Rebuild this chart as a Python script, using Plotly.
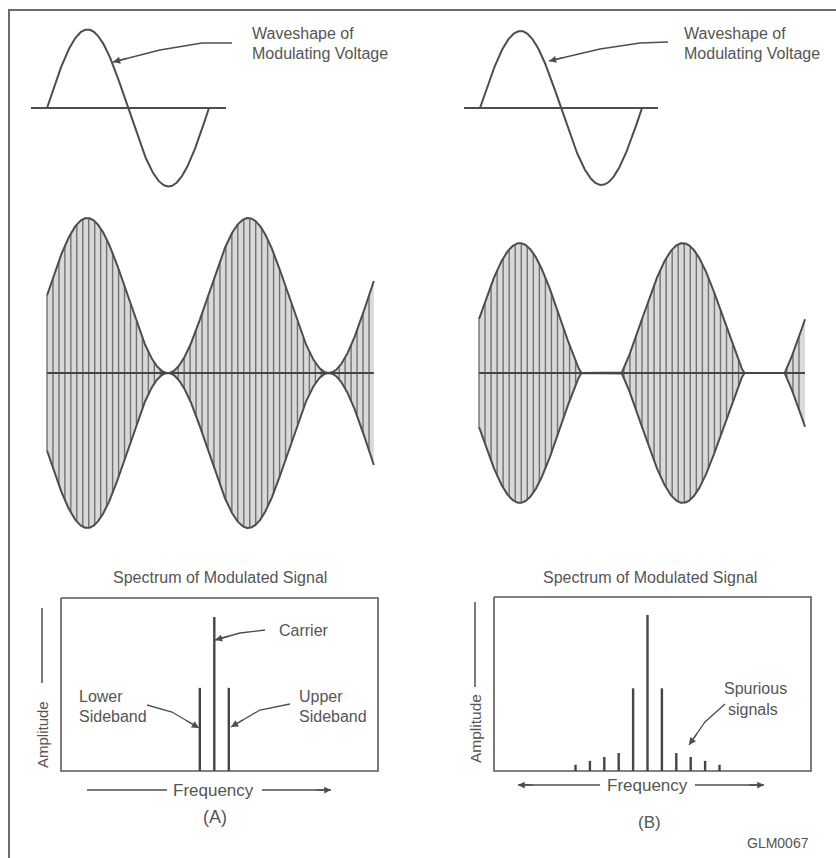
import numpy as np
import plotly.graph_objects as go

# ---------------- data ----------------
mod_cycles_shown = 1.0            # cycles of modulating voltage drawn at top
env_cycles_A = 2.03               # cycles of modulated carrier, panel A
env_cycles_B = 2.0                # cycles of modulated carrier, panel B
mod_index_A = 1.0                 # 100 % modulation
mod_index_B = 1.414               # overmodulation
carrier_per_mod = 27              # carrier cycles per modulating cycle

spec_offsets_A = [-1, 0, 1]
spec_amps_A = [0.54, 1.0, 0.54]
spec_offsets_B = [-5, -4, -3, -2, -1, 0, 1, 2, 3, 4, 5]
spec_amps_B = [0.04, 0.065, 0.09, 0.115, 0.53, 1.0, 0.53, 0.115, 0.09, 0.065, 0.04]

# ---------------- geometry (canvas in px) ----------------
INK = "#4d4d4d"
TXT = "#555555"
FONT = "Liberation Sans, Arial, sans-serif"

top_geo = {"A": dict(x0=47, base=108, per=162, amp=78.5, ax0=31, ax1=226),
           "B": dict(x0=480, base=108, per=162, amp=77, ax0=464, ax1=658)}
env_geo = {"A": dict(x0=47, base=373, per=161, unit=77.5, m=mod_index_A, cyc=env_cycles_A),
           "B": dict(x0=479, base=373, per=163, unit=53.8, m=mod_index_B, cyc=env_cycles_B)}
spec_geo = {"A": dict(cx=214.3, sp=14.5, base=771, unit=154, bx0=61, bx1=378, by0=598,
                      offs=spec_offsets_A, amps=spec_amps_A),
            "B": dict(cx=647.5, sp=14.4, base=771, unit=156, bx0=494, bx1=811, by0=597,
                      offs=spec_offsets_B, amps=spec_amps_B)}

fig = go.Figure()


def line(xs, ys, color=INK, width=2):
    fig.add_trace(go.Scatter(x=xs, y=ys, mode="lines", line=dict(color=color, width=width),
                             hoverinfo="skip", showlegend=False))


# outer frame
line([836, 9, 9], [10, 10, 858], color="#6a6a6a", width=2)

for key in ["A", "B"]:
    # ---- modulating voltage ----
    g = top_geo[key]
    t = np.linspace(0, mod_cycles_shown, 300)
    line([g["ax0"], g["ax1"]], [g["base"], g["base"]], width=2)
    line(g["x0"] + g["per"] * t, g["base"] - g["amp"] * np.sin(2 * np.pi * t), width=2)

    # ---- modulated carrier ----
    e = env_geo[key]
    t = np.linspace(0, e["cyc"], 800)
    env = e["unit"] * np.maximum(0, 1 + e["m"] * np.sin(2 * np.pi * t))
    xs = e["x0"] + e["per"] * t
    fig.add_trace(go.Scatter(x=np.concatenate([xs, xs[::-1]]),
                             y=np.concatenate([e["base"] - env, (e["base"] + env)[::-1]]),
                             mode="lines", fill="toself", fillcolor="#d9d9d9",
                             line=dict(width=0), hoverinfo="skip", showlegend=False))
    tc = np.arange(0, e["cyc"], 1 / carrier_per_mod)
    envc = e["unit"] * np.maximum(0, 1 + e["m"] * np.sin(2 * np.pi * tc))
    cx, cy = [], []
    for ti, ev in zip(tc, envc):
        if ev > 0.5:
            x = e["x0"] + e["per"] * ti
            cx += [x, x, None]
            cy += [e["base"] - ev, e["base"] + ev, None]
    line(cx, cy, color="#727272", width=1.4)
    line(xs, e["base"] - env, width=2)
    line(xs, e["base"] + env, width=2)
    line([xs[0], xs[-1]], [e["base"], e["base"]], color="#454545", width=2.2)

    # ---- spectrum ----
    s = spec_geo[key]
    line([s["bx0"], s["bx1"], s["bx1"], s["bx0"], s["bx0"]],
         [s["by0"], s["by0"], s["base"], s["base"], s["by0"]], color="#5a5a5a", width=1.6)
    sx, sy = [], []
    for o, a in zip(s["offs"], s["amps"]):
        x = s["cx"] + s["sp"] * o
        sx += [x, x, None]
        sy += [s["base"], s["base"] - s["unit"] * a, None]
    line(sx, sy, color="#454545", width=2.4)

anns = []


def text(x, y, s, size=16, angle=0, anchor="left"):
    anns.append(dict(x=x, y=y, xref="x", yref="y", text=s, showarrow=False, xanchor=anchor,
                     yanchor="middle", textangle=angle, font=dict(family=FONT, size=size, color=TXT)))


def arrow_path(xs, ys, width=1.3, head=1.1):
    """polyline ending in an arrowhead at the last point"""
    line(xs, ys, width=width)
    x1, y1, x0, y0 = xs[-1], ys[-1], xs[-2], ys[-2]
    d = np.hypot(x1 - x0, y1 - y0)
    tx, ty = x1 - (x1 - x0) / d * 16, y1 - (y1 - y0) / d * 16
    anns.append(dict(x=x1, y=y1, ax=tx, ay=ty, xref="x", yref="y", axref="x", ayref="y", text="",
                     showarrow=True, arrowhead=2, arrowsize=head, arrowwidth=width, arrowcolor=INK,
                     standoff=0))


# top labels
for x in (250, 682):
    text(x, 33, "Waveshape of")
    text(x, 53, "Modulating Voltage")
arrow_path([232, 202, 160, 113], [43, 43, 50, 62])
arrow_path([668, 640, 600, 549], [42, 43, 49, 61])

# spectrum titles
text(220, 577, "Spectrum of Modulated Signal", anchor="center")
text(650, 577, "Spectrum of Modulated Signal", anchor="center")

# panel A annotations
text(277, 630, "Carrier")
arrow_path([265, 240, 215], [630, 633, 640])
text(77, 696, "Lower")
text(77, 716, "Sideband")
arrow_path([147, 172, 199], [705, 712, 728])
text(297, 696, "Upper")
text(297, 716, "Sideband")
arrow_path([290, 260, 231], [704, 710, 727])

# panel B annotations
text(722, 688, "Spurious")
text(726, 709, "signals")
arrow_path([725, 705, 689], [704, 722, 745])

# amplitude labels
text(42, 735, "Amplitude", size=15, angle=-90, anchor="center")
line([42, 42], [608, 683], width=1.5)
text(475, 729, "Amplitude", size=15.5, angle=-90, anchor="center")
line([475, 475], [602, 687], width=1.5)

# frequency labels
text(213, 790, "Frequency", size=17, anchor="center")
line([87, 167], [790, 790], width=1.5)
arrow_path([262, 331], [790, 790], width=1.5, head=0.9)
text(647, 785, "Frequency", size=17, anchor="center")
arrow_path([600, 518], [785, 785], width=1.5, head=0.9)
arrow_path([695, 764], [785, 785], width=1.5, head=0.9)

text(215, 817, "(A)", size=18, anchor="center")
text(649, 822, "(B)", size=17, anchor="center")
text(778, 843, "GLM0067", size=14, anchor="center")

fig.update_layout(
    width=836, height=858, margin=dict(l=0, r=0, t=0, b=0),
    paper_bgcolor="white", plot_bgcolor="white", annotations=anns,
    xaxis=dict(range=[0, 836], visible=False, fixedrange=True),
    yaxis=dict(range=[858, 0], visible=False, fixedrange=True),
)

fig.write_html("out.html", config={"displayModeBar": False},
               post_script="document.body.style.margin='0';document.body.style.overflow='hidden';")
